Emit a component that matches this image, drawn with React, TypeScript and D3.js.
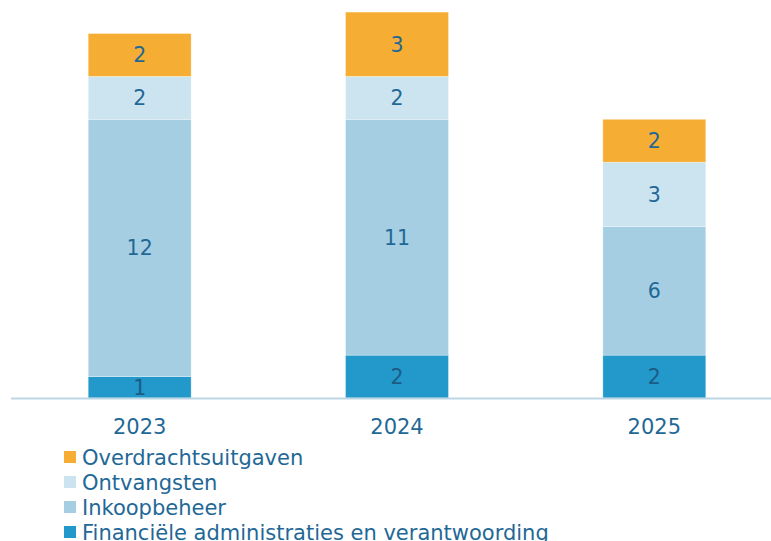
import React from "react";
import * as d3 from "d3";

const years = ["2023", "2024", "2025"];
const seriesNames = [
  "Financiële administraties en verantwoording",
  "Inkoopbeheer",
  "Ontvangsten",
  "Overdrachtsuitgaven",
];
const finAdmin = [1, 2, 2];
const inkoop = [12, 11, 6];
const ontvangsten = [2, 2, 3];
const overdracht = [2, 3, 2];
const colors = ["#2299CA", "#A5CEE3", "#CCE3F0", "#F5AE33"];
const legendOrder = [3, 2, 1, 0];

export default function App() {
  const W = 771, H = 541;
  const baseY = 398;
  const values = [finAdmin, inkoop, ontvangsten, overdracht];
  const rows = years.map((y, i) => {
    const r: any = { year: y };
    seriesNames.forEach((s, k) => (r[s] = values[k][i]));
    return r;
  });
  const stack = d3.stack<any>().keys(seriesNames)(rows);
  const x = d3.scaleBand().domain(years).range([11, 783]).paddingInner(0.6).paddingOuter(0.3);
  const y = d3.scaleLinear().domain([0, 18]).range([baseY, baseY - 18 * 21.44]);
  const font = "Verdana, 'DejaVu Sans', sans-serif";
  const textColor = "#1F6896";

  return (
    <svg width={W} height={H} style={{ position: "absolute", left: 0, top: 0 }}>
      {stack.map((layer, k) =>
        layer.map((d, i) => {
          const x0 = x(years[i])!;
          const y0 = y(d[1]);
          const h = y(d[0]) - y(d[1]);
          return (
            <g key={`${k}-${i}`}>
              <rect x={x0} y={y0} width={x.bandwidth()} height={h} fill={colors[k]} stroke="#ffffff" strokeWidth={0.6} strokeOpacity={0.5} />
              <text
                x={x0 + x.bandwidth() / 2}
                y={y0 + h / 2}
                dy="0.36em"
                textAnchor="middle"
                fontFamily={font}
                fontSize={20.5}
                fill={k === 0 ? "#1B5C86" : textColor}
              >
                {values[k][i]}
              </text>
            </g>
          );
        })
      )}
      <line x1={11} x2={W} y1={baseY + 0.5} y2={baseY + 0.5} stroke="#BCD6E6" strokeWidth={2} />
      {years.map((yr) => (
        <text key={yr} x={x(yr)! + x.bandwidth() / 2} y={426} dy="0.36em" textAnchor="middle" fontFamily={font} fontSize={21} fill={textColor}>
          {yr}
        </text>
      ))}
      {legendOrder.map((k, j) => (
        <g key={k} transform={`translate(64, ${457 + j * 25})`}>
          <rect x={0} y={-6} width={12} height={12} fill={colors[k]} />
          <text x={18} y={0} dy="0.36em" fontFamily={font} fontSize={21} fill={textColor}>
            {seriesNames[k]}
          </text>
        </g>
      ))}
    </svg>
  );
}
